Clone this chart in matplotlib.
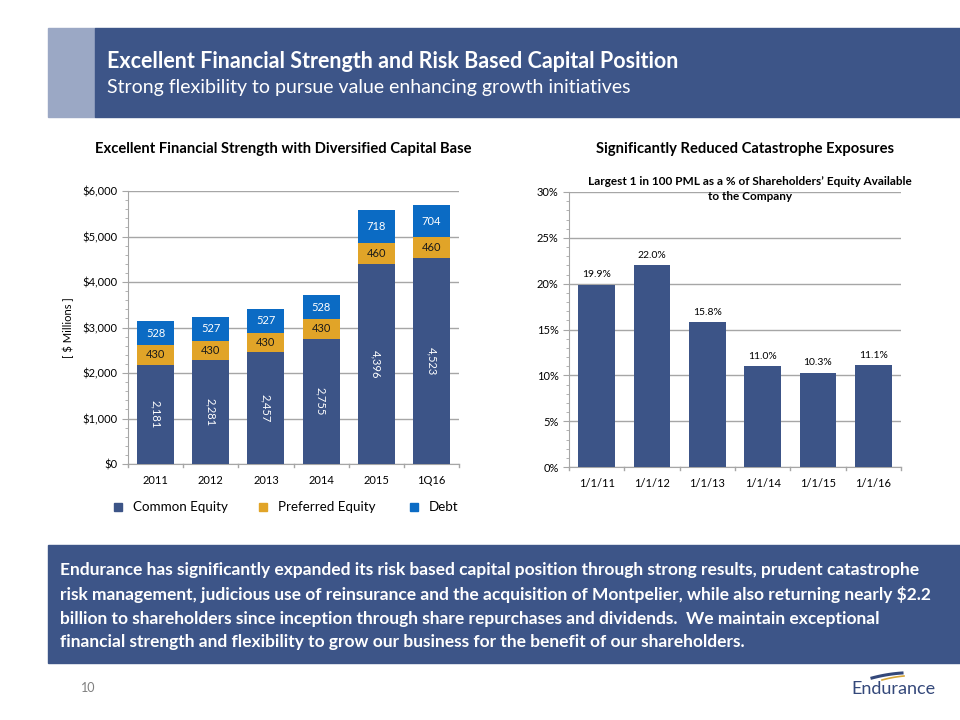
import matplotlib.pyplot as plt
import matplotlib.patches as mpatches
import numpy as np
from matplotlib.ticker import MultipleLocator, FuncFormatter

plt.rcParams['font.family'] = ['Lato', 'DejaVu Sans']

# left chart data ($ millions)
years = ["2011", "2012", "2013", "2014", "2015", "1Q16"]
common_equity = [2181, 2281, 2457, 2755, 4396, 4523]
preferred_equity = [430, 430, 430, 430, 460, 460]
debt = [528, 527, 527, 528, 718, 704]

# right chart data (%)
pml_dates = ["1/1/11", "1/1/12", "1/1/13", "1/1/14", "1/1/15", "1/1/16"]
pml_pct = [19.9, 22.0, 15.8, 11.0, 10.3, 11.1]

navy = "#3C5487"
gold = "#E1A428"
blue = "#0B6BC4"
grid_c = "#A6A6A6"

W, H = 960, 720
fig = plt.figure(figsize=(9.6, 7.2), dpi=100)


def fx(x):
    return x / W


def fy(y):
    return 1 - y / H


# header band
fig.patches.append(mpatches.Rectangle((fx(48), fy(117)), fx(47), (117 - 28) / H,
                                      transform=fig.transFigure, color="#9BA8C5", zorder=0))
fig.patches.append(mpatches.Rectangle((fx(95), fy(117)), fx(865), (117 - 28) / H,
                                      transform=fig.transFigure, color="#3D5588", zorder=0))
fig.text(fx(107), fy(61), "Excellent Financial Strength and Risk Based Capital Position",
         color="white", fontsize=15.5, fontweight="bold", va="center")
fig.text(fx(107), fy(88), "Strong flexibility to pursue value enhancing growth initiatives",
         color="white", fontsize=14, va="center")

# chart headings
fig.text(fx(283), fy(149), "Excellent Financial Strength with Diversified Capital Base",
         color="black", fontsize=10.6, fontweight="bold", ha="center", va="center")
fig.text(fx(745), fy(149), "Significantly Reduced Catastrophe Exposures",
         color="black", fontsize=10.6, fontweight="bold", ha="center", va="center")

# ---- left: stacked bars
ax1 = fig.add_axes([fx(128), fy(464), fx(331), (464 - 191) / H])
x = np.arange(len(years))
bw = 0.67
ce = np.array(common_equity)
pe = np.array(preferred_equity)
db = np.array(debt)
ax1.bar(x, ce, bw, color=navy, zorder=3)
ax1.bar(x, pe, bw, bottom=ce, color=gold, zorder=3)
ax1.bar(x, db, bw, bottom=ce + pe, color=blue, zorder=3)
for i in range(len(years)):
    ax1.text(x[i], ce[i] / 2, f"{ce[i]:,}", rotation=270, color="white", fontsize=8,
             ha="center", va="center", zorder=4)
    ax1.text(x[i], ce[i] + pe[i] / 2, f"{pe[i]}", color="#1a1a1a", fontsize=8,
             ha="center", va="center", zorder=4)
    ax1.text(x[i], ce[i] + pe[i] + db[i] / 2, f"{db[i]}", color="white", fontsize=8,
             ha="center", va="center", zorder=4)
ax1.set_xlim(-0.5, len(years) - 0.5)
ax1.set_ylim(0, 6000)
ax1.yaxis.set_major_locator(MultipleLocator(1000))
ax1.yaxis.set_minor_locator(MultipleLocator(200))
ax1.yaxis.set_major_formatter(FuncFormatter(lambda v, p: f"${v:,.0f}"))
ax1.set_xticks(x)
ax1.set_xticklabels(years)
ax1.set_ylabel("[ $ Millions ]", fontsize=8, color="black", labelpad=6)

# ---- right: PML bars
ax2 = fig.add_axes([fx(569), fy(467), fx(332), (467 - 192) / H])
x2 = np.arange(len(pml_dates))
ax2.bar(x2, pml_pct, 0.66, color=navy, zorder=3)
for i, v in enumerate(pml_pct):
    ax2.text(x2[i], v + 0.6, f"{v:.1f}%", fontsize=7.5, color="black", ha="center", va="bottom")
ax2.set_xlim(-0.5, len(pml_dates) - 0.5)
ax2.set_ylim(0, 30)
ax2.yaxis.set_major_locator(MultipleLocator(5))
ax2.yaxis.set_minor_locator(MultipleLocator(1))
ax2.yaxis.set_major_formatter(FuncFormatter(lambda v, p: f"{v:.0f}%"))
ax2.set_xticks(x2)
ax2.set_xticklabels(pml_dates)
fig.text(fx(750), fy(189), "Largest 1 in 100 PML as a % of Shareholders\u2019 Equity Available\nto the Company",
         fontsize=8.5, fontweight="bold", ha="center", va="center", linespacing=1.4)

for ax in (ax1, ax2):
    ax.grid(axis="y", color=grid_c, linewidth=1, zorder=0)
    for s in ("top", "right"):
        ax.spines[s].set_visible(False)
    ax.spines["left"].set_color(grid_c)
    ax.spines["bottom"].set_color(grid_c)
    ax.tick_params(axis="y", which="major", length=4, color=grid_c, labelsize=8, labelcolor="black")
    ax.tick_params(axis="y", which="minor", length=2, color=grid_c)
    ax.tick_params(axis="x", length=0, labelsize=8, labelcolor="black", pad=8)
    # category separator ticks
    for b in np.arange(-0.5, len(years), 1.0):
        ax.plot([b, b], [0, -0.012], transform=ax.get_xaxis_transform(), color=grid_c,
                linewidth=1, clip_on=False)

# legend
leg_items = [("Common Equity", navy, 118), ("Preferred Equity", gold, 263), ("Debt", blue, 414)]
for label, c, px in leg_items:
    fig.patches.append(mpatches.Rectangle((fx(px - 4), fy(511)), fx(8), 8 / H,
                                          transform=fig.transFigure, color=c))
    fig.text(fx(px + 15), fy(507), label, fontsize=9.6, color="black", va="center")

# bottom box
fig.patches.append(mpatches.Rectangle((fx(48), fy(663)), fx(912), (663 - 545) / H,
                                      transform=fig.transFigure, color="#3D5588", zorder=0))
body = ("Endurance has significantly expanded its risk based capital position through strong results, prudent catastrophe\n"
        "risk management, judicious use of reinsurance and the acquisition of Montpelier, while also returning nearly $2.2\n"
        "billion to shareholders since inception through share repurchases and dividends.  We maintain exceptional\n"
        "financial strength and flexibility to grow our business for the benefit of our shareholders.")
fig.text(fx(60), fy(606), body, color="white", fontsize=12.5, fontweight="bold", va="center",
         linespacing=1.6)

# footer
fig.text(fx(88), fy(688), "10", color="#7F7F7F", fontsize=9, ha="center", va="center")
fig.text(fx(893), fy(689), "Endurance", color="#34487A", fontsize=13, ha="center", va="center",
         fontstretch="condensed")
t = np.linspace(0, 1, 30)
fig.lines.append(plt.Line2D(fx(872 + 30 * t), fy(678 - 8 * t + 3 * t ** 2), transform=fig.transFigure,
                            color="#34487A", linewidth=2.2))
fig.lines.append(plt.Line2D(fx(882 + 22 * t), fy(680 - 6 * t + 2 * t ** 2), transform=fig.transFigure,
                            color="#D7A638", linewidth=1.2))

fig.savefig("out.png", dpi=100)
